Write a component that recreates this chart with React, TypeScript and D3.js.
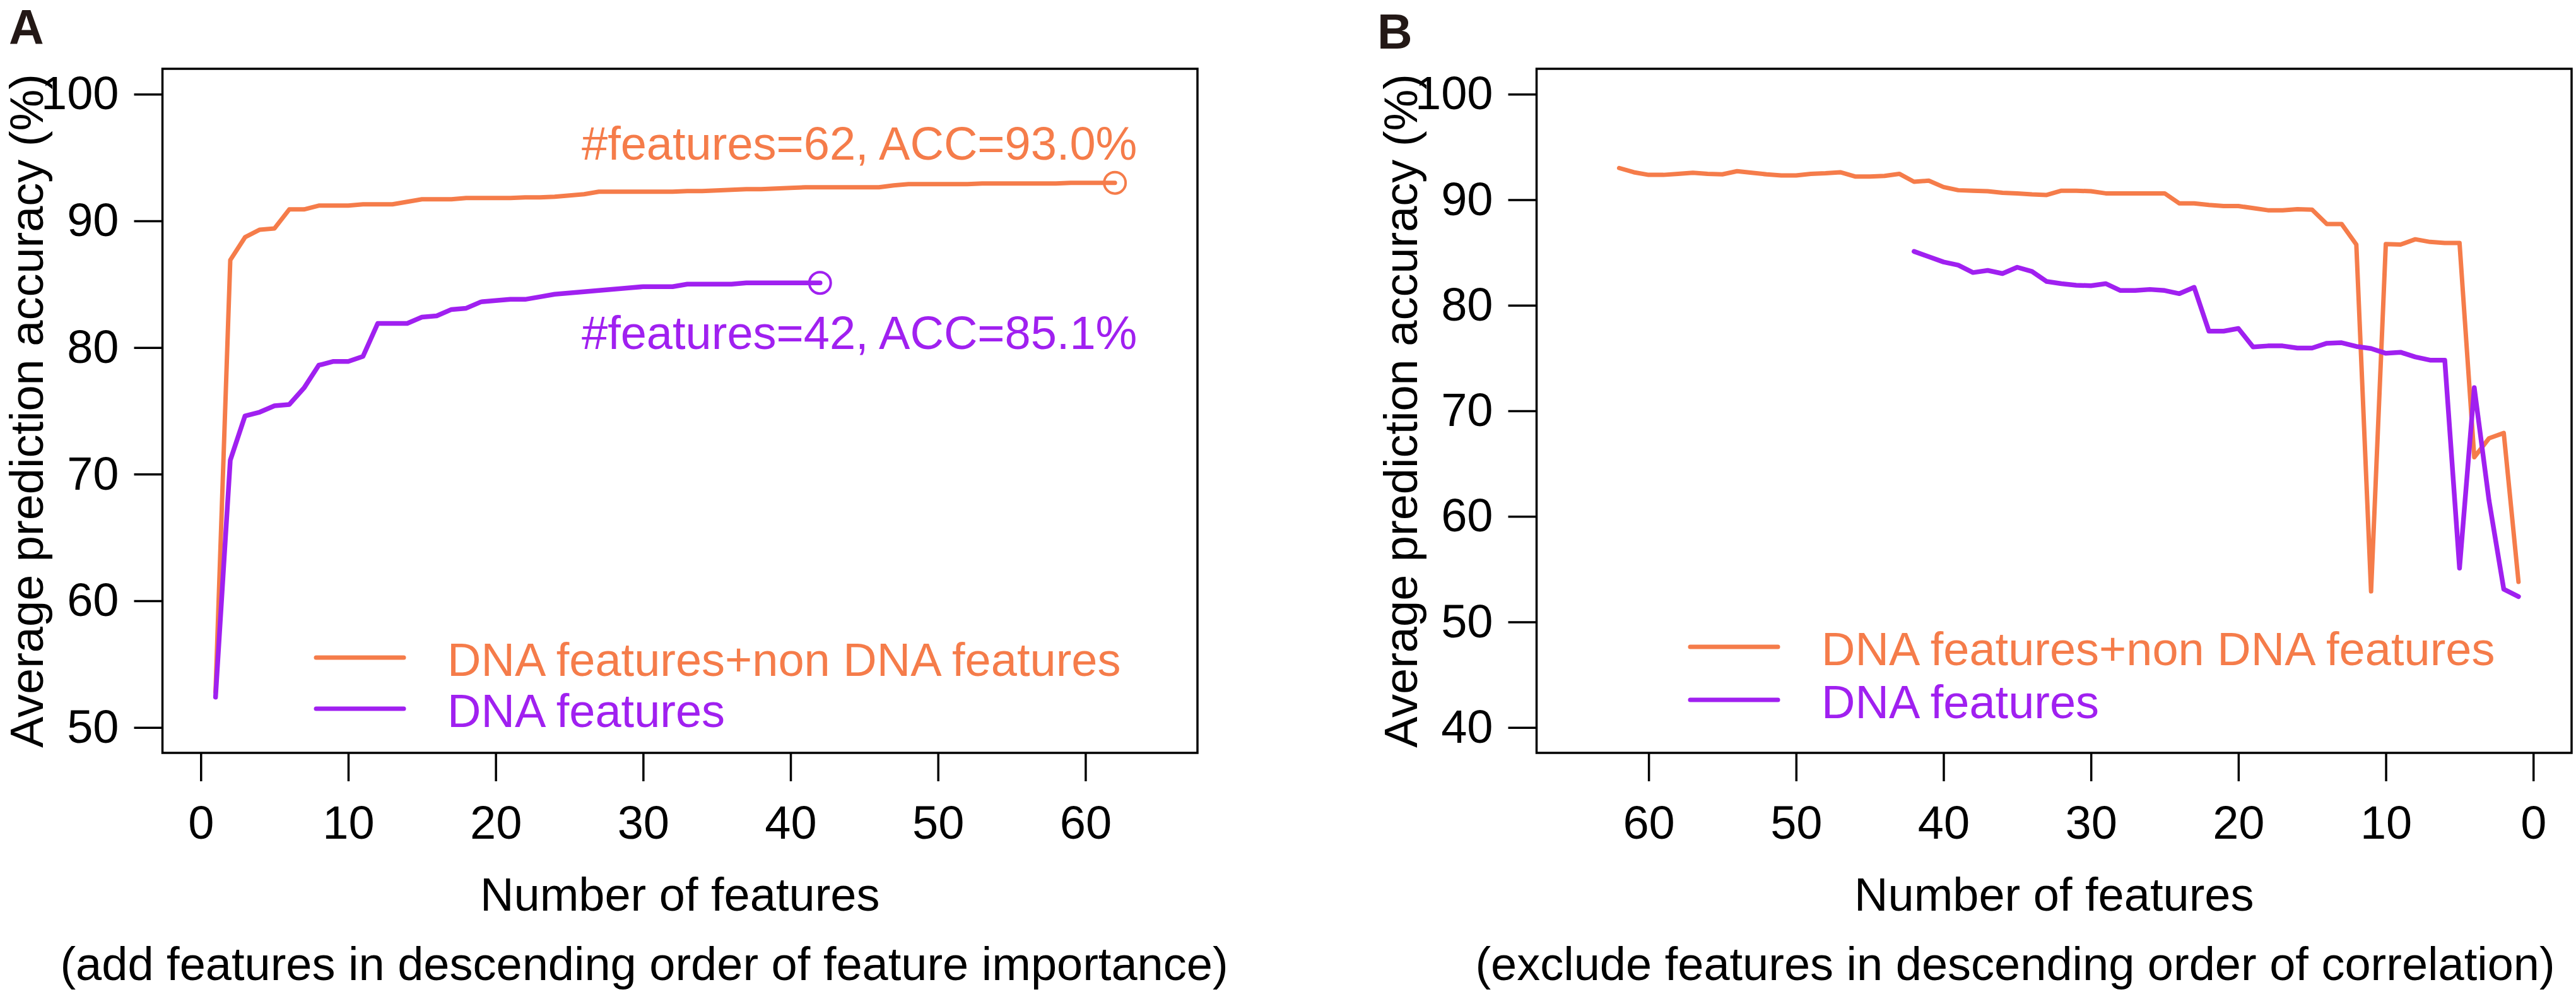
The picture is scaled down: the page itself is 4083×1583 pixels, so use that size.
import React, { useEffect, useRef } from "react";
import * as d3 from "d3";

const ORANGE = "#F57C4A";
const PURPLE = "#A020F0";
const FONT = "'Liberation Sans', Arial, Helvetica, sans-serif";
const FS = 74;

// Panel A: accuracy while adding features by importance (x = 1..n)
const accAllA = [
  52.8, 86.9, 88.7, 89.3, 89.4, 90.9, 90.9, 91.2, 91.2, 91.2,
  91.3, 91.3, 91.3, 91.5, 91.7, 91.7, 91.7, 91.8, 91.8, 91.8,
  91.8, 91.85, 91.85, 91.9, 92.0, 92.1, 92.3, 92.3, 92.3, 92.3,
  92.3, 92.3, 92.35, 92.35, 92.4, 92.45, 92.5, 92.5, 92.55, 92.6,
  92.65, 92.65, 92.65, 92.65, 92.65, 92.65, 92.8, 92.9, 92.9, 92.9,
  92.9, 92.9, 92.95, 92.95, 92.95, 92.95, 92.95, 92.95, 93.0, 93.0,
  93.0, 93.0,
];
const accDnaA = [
  52.4, 71.1, 74.6, 74.9, 75.4, 75.5, 76.8, 78.6, 78.9, 78.9,
  79.3, 81.9, 81.9, 81.9, 82.4, 82.5, 83.0, 83.1, 83.6, 83.7,
  83.8, 83.8, 84.0, 84.2, 84.3, 84.4, 84.5, 84.6, 84.7, 84.8,
  84.8, 84.8, 85.0, 85.0, 85.0, 85.0, 85.1, 85.1, 85.1, 85.1,
  85.1, 85.1,
];

// Panel B: accuracy while excluding features by correlation,
// listed from the largest feature count down to 1
const accAllB = [
  93.0, 92.6, 92.35, 92.35, 92.45, 92.55, 92.45, 92.4, 92.7, 92.55,
  92.4, 92.3, 92.3, 92.45, 92.5, 92.6, 92.2, 92.2, 92.25, 92.45,
  91.7, 91.8, 91.2, 90.9, 90.85, 90.8, 90.65, 90.6, 90.5, 90.45,
  90.85, 90.85, 90.8, 90.6, 90.6, 90.6, 90.6, 90.6, 89.65, 89.65,
  89.5, 89.4, 89.4, 89.2, 89.0, 89.0, 89.1, 89.05, 87.7, 87.7,
  85.75, 52.9, 85.8, 85.75, 86.25, 86.0, 85.9, 85.9, 65.6, 67.4,
  67.9, 53.8,
];
const accDnaB = [
  85.1, 84.6, 84.1, 83.8, 83.1, 83.3, 83.0, 83.6, 83.2, 82.25,
  82.05, 81.9, 81.85, 82.05, 81.4, 81.4, 81.5, 81.4, 81.1, 81.7,
  77.55, 77.55, 77.8, 76.05, 76.15, 76.15, 75.95, 75.95, 76.4, 76.45,
  76.1, 75.9, 75.45, 75.55, 75.1, 74.8, 74.8, 55.1, 72.2, 61.5,
  53.1, 52.4,
];

const xTicksA = [0, 10, 20, 30, 40, 50, 60];
const yTicksA = [50, 60, 70, 80, 90, 100];
const xTicksB = [60, 50, 40, 30, 20, 10, 0];
const yTicksB = [40, 50, 60, 70, 80, 90, 100];

const legendLabels = ["DNA features+non DNA features", "DNA features"];
const yTitle = "Average prediction accuracy (%)";
const xTitle = "Number of features";

const TOP = 109;
const BOTTOM = 1193;
const BOX_W = 1640.5;

type Panel = {
  left: number;
  xDomain: [number, number];
  yDomain: [number, number];
  xTicks: number[];
  yTicks: number[];
  all: number[];
  dna: number[];
  ascending: boolean;
  letter: string;
  letterX: number;
  letterY: number;
  legendY: [number, number];
  subtitle: string;
  subtitleX: number;
  markEnds: boolean;
};

function drawPanel(svg: d3.Selection<SVGSVGElement, unknown, null, undefined>, p: Panel) {
  const x = d3.scaleLinear().domain(p.xDomain).range([p.left, p.left + BOX_W]);
  const y = d3.scaleLinear().domain(p.yDomain).range([BOTTOM, TOP]);
  const g = svg.append("g");

  // axes
  const gx = g
    .append("g")
    .attr("transform", `translate(0,${BOTTOM})`)
    .call(d3.axisBottom(x).tickValues(p.xTicks).tickSize(45).tickPadding(38).tickFormat(d3.format("d")));
  const gy = g
    .append("g")
    .attr("transform", `translate(${p.left},0)`)
    .call(d3.axisLeft(y).tickValues(p.yTicks).tickSize(45).tickPadding(24).tickFormat(d3.format("d")));
  [gx, gy].forEach((a) => {
    a.select(".domain").remove();
    a.attr("font-size", FS).attr("font-family", FONT);
    a.selectAll("line").attr("stroke", "#000").attr("stroke-width", 3.5);
    a.selectAll("text").attr("fill", "#000");
  });

  g.append("rect")
    .attr("x", p.left)
    .attr("y", TOP)
    .attr("width", BOX_W)
    .attr("height", BOTTOM - TOP)
    .attr("fill", "none")
    .attr("stroke", "#000")
    .attr("stroke-width", 3.5);

  const xOf = (arr: number[], i: number) => (p.ascending ? i + 1 : arr.length - i);
  const series = [
    { vals: p.all, color: ORANGE, width: 7 },
    { vals: p.dna, color: PURPLE, width: 7.5 },
  ];
  series.forEach((s) => {
    const line = d3
      .line<number>()
      .x((d, i) => x(xOf(s.vals, i)))
      .y((d) => y(d));
    g.append("path")
      .attr("d", line(s.vals) || "")
      .attr("fill", "none")
      .attr("stroke", s.color)
      .attr("stroke-width", s.width)
      .attr("stroke-linejoin", "round")
      .attr("stroke-linecap", "round");
    if (p.markEnds) {
      const last = s.vals.length - 1;
      g.append("circle")
        .attr("cx", x(xOf(s.vals, last)))
        .attr("cy", y(s.vals[last]))
        .attr("r", 17)
        .attr("fill", "none")
        .attr("stroke", s.color)
        .attr("stroke-width", 4);
    }
  });

  if (p.markEnds) {
    g.append("text")
      .attr("x", 922)
      .attr("y", 253)
      .attr("fill", ORANGE)
      .attr("font-size", FS)
      .attr("font-family", FONT)
      .text(`#features=${p.all.length}, ACC=${p.all[p.all.length - 1].toFixed(1)}%`);
    g.append("text")
      .attr("x", 922)
      .attr("y", 553)
      .attr("fill", PURPLE)
      .attr("font-size", FS)
      .attr("font-family", FONT)
      .text(`#features=${p.dna.length}, ACC=${p.dna[p.dna.length - 1].toFixed(1)}%`);
  }

  // legend
  [ORANGE, PURPLE].forEach((c, i) => {
    const ly = p.legendY[i];
    g.append("line")
      .attr("x1", p.left + 243.5)
      .attr("x2", p.left + 382.5)
      .attr("y1", ly)
      .attr("y2", ly)
      .attr("stroke", c)
      .attr("stroke-width", 7)
      .attr("stroke-linecap", "round");
    g.append("text")
      .attr("x", p.left + 451.5)
      .attr("y", ly + 28.5)
      .attr("fill", c)
      .attr("font-size", FS)
      .attr("font-family", FONT)
      .text(legendLabels[i]);
  });

  // titles
  const ty = (TOP + BOTTOM) / 2;
  const tx = p.left - 190;
  g.append("text")
    .attr("transform", `translate(${tx},${ty}) rotate(-90)`)
    .attr("text-anchor", "middle")
    .attr("font-size", FS)
    .attr("font-family", FONT)
    .text(yTitle);
  g.append("text")
    .attr("x", p.left + BOX_W / 2)
    .attr("y", 1443)
    .attr("text-anchor", "middle")
    .attr("font-size", FS)
    .attr("font-family", FONT)
    .text(xTitle);
  g.append("text")
    .attr("x", p.subtitleX)
    .attr("y", 1553)
    .attr("text-anchor", "middle")
    .attr("font-size", FS)
    .attr("font-family", FONT)
    .text(p.subtitle);
  g.append("text")
    .attr("x", p.letterX)
    .attr("y", p.letterY)
    .attr("font-size", 77)
    .attr("font-weight", "bold")
    .attr("font-family", FONT)
    .attr("fill", "#231816")
    .text(p.letter);
}

const App: React.FC = () => {
  const svgRef = useRef<SVGSVGElement>(null);

  useEffect(() => {
    const svg = d3.select(svgRef.current as SVGSVGElement);
    svg.selectAll("*").remove();

    drawPanel(svg, {
      left: 257.5,
      xDomain: [-2.6, 67.6],
      yDomain: [48, 102],
      xTicks: xTicksA,
      yTicks: yTicksA,
      all: accAllA,
      dna: accDnaA,
      ascending: true,
      letter: "A",
      letterX: 14,
      letterY: 70,
      legendY: [1042, 1123],
      subtitle: "(add features in descending order of feature importance)",
      subtitleX: 1021,
      markEnds: true,
    });
    drawPanel(svg, {
      left: 2435.5,
      xDomain: [67.6, -2.6],
      yDomain: [37.6, 102.4],
      xTicks: xTicksB,
      yTicks: yTicksB,
      all: accAllB,
      dna: accDnaB,
      ascending: false,
      letter: "B",
      letterX: 2183,
      letterY: 77,
      legendY: [1025, 1109],
      subtitle: "(exclude features in descending order of correlation)",
      subtitleX: 3194,
      markEnds: false,
    });
  }, []);

  return (
    <svg
      ref={svgRef}
      width={4083}
      height={1583}
      style={{ position: "absolute", left: 0, top: 0, background: "#fff" }}
    />
  );
};

export default App;
